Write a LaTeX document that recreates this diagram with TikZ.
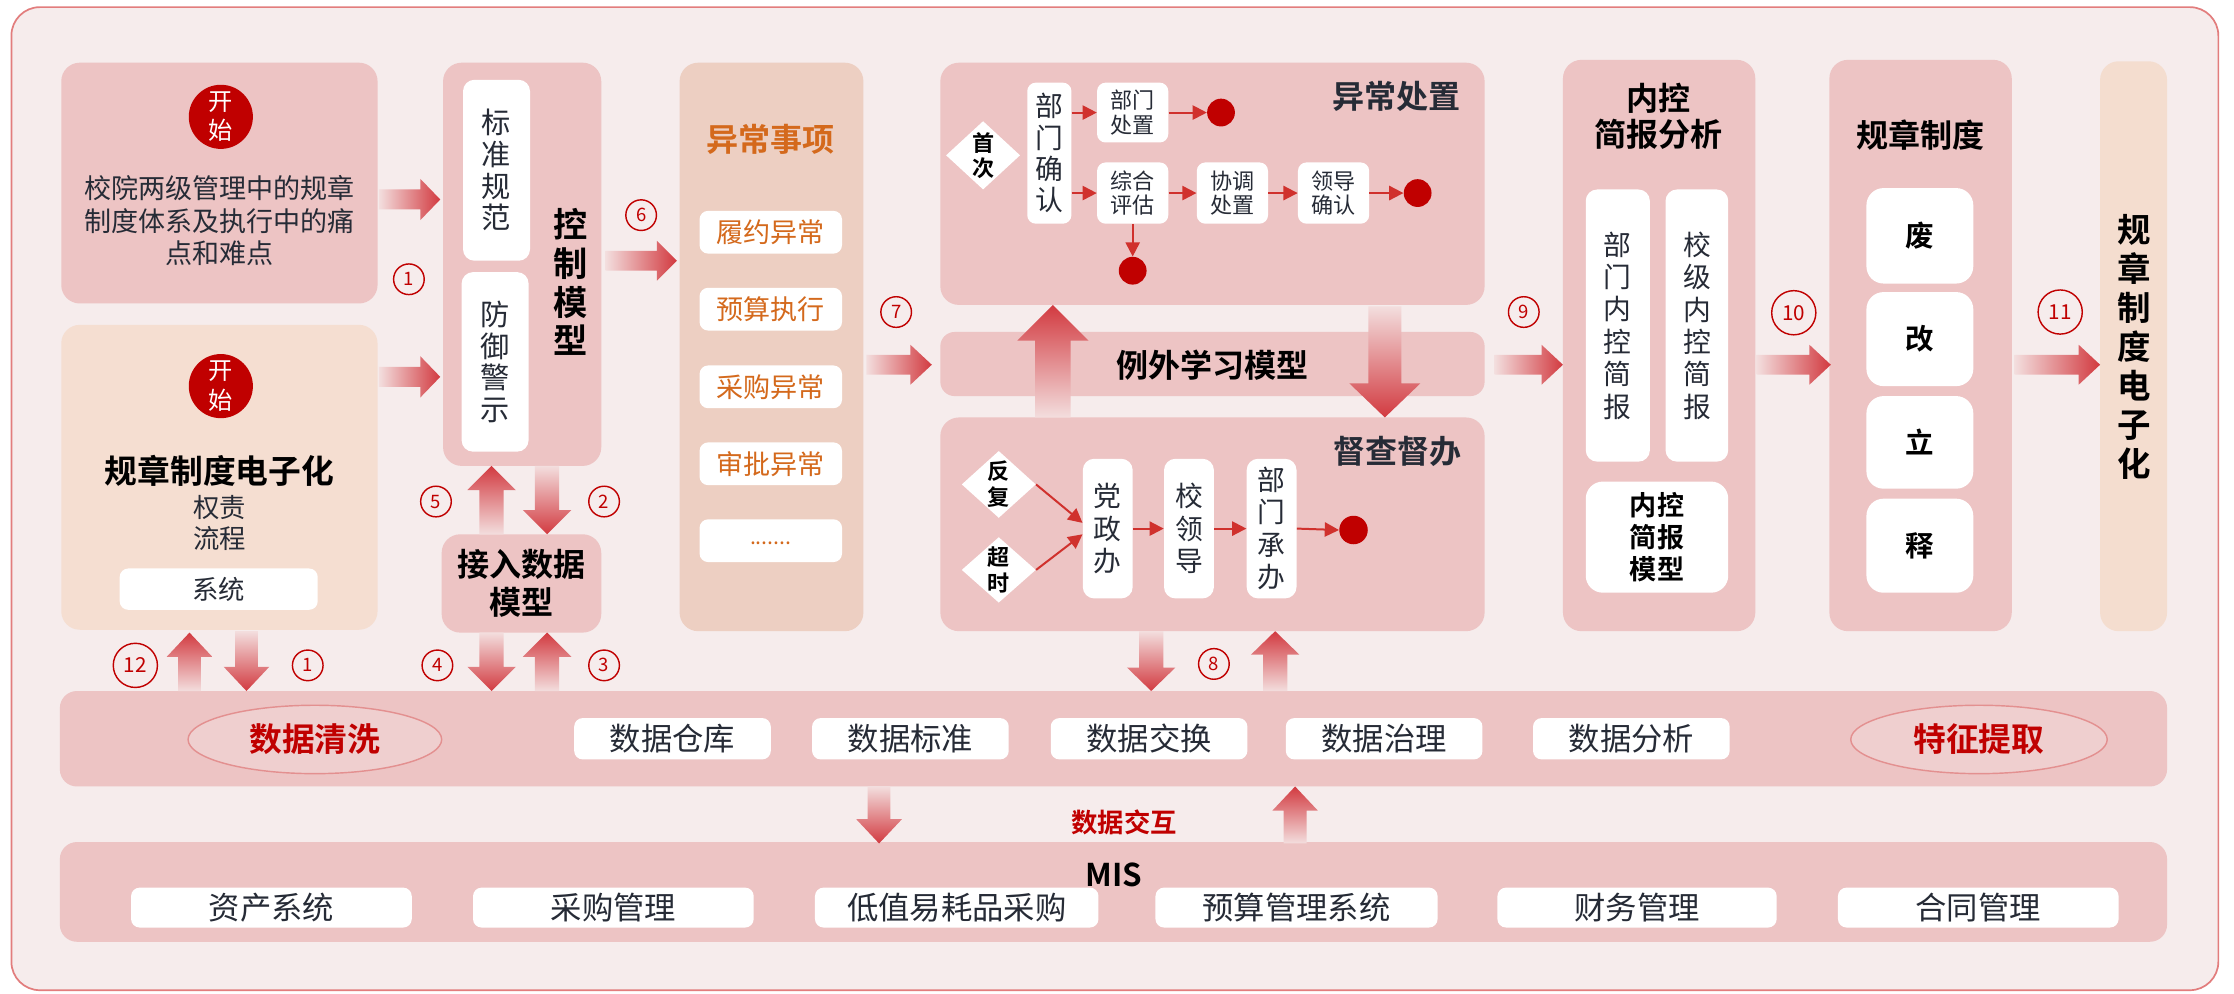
\documentclass[tikz,border=0pt]{standalone}
\usepackage{fontspec}
\setmainfont{Noto Sans CJK SC}[BoldFont={Noto Sans CJK SC Bold}]
\usetikzlibrary{arrows.meta,shapes.geometric}
\definecolor{bgc}{HTML}{F6ECEC}
\definecolor{bordc}{HTML}{E27D7D}
\definecolor{pinkc}{HTML}{EDC4C4}
\definecolor{peacha}{HTML}{F5DED1}
\definecolor{peachb}{HTML}{EDCFC2}
\definecolor{peachc}{HTML}{F4DDCF}
\definecolor{darkred}{HTML}{C00000}
\definecolor{arrred}{HTML}{D23A40}
\definecolor{arrtail}{HTML}{F3DEDE}
\definecolor{flowred}{HTML}{D0312D}
\definecolor{txt}{HTML}{262B36}
\definecolor{orangec}{HTML}{D4691C}
\definecolor{ellc}{HTML}{EFCFCF}
\definecolor{ellb}{HTML}{E39090}
\newcommand\myarrR[6]{% x1 x2 y shafthalf headhalf headlen
  \shade[left color=arrtail, right color=arrred] (#1,#3-#4) -- (#2-#6,#3-#4) -- (#2-#6,#3-#5) -- (#2,#3) -- (#2-#6,#3+#5) -- (#2-#6,#3+#4) -- (#1,#3+#4) -- cycle;}
\newcommand\myarrU[6]{% x ytail ytip shafthalf headhalf headlen
  \shade[top color=arrred, bottom color=arrtail] (#1-#4,#2) -- (#1-#4,#3+#6) -- (#1-#5,#3+#6) -- (#1,#3) -- (#1+#5,#3+#6) -- (#1+#4,#3+#6) -- (#1+#4,#2) -- cycle;}
\newcommand\myarrD[6]{% x ytail ytip shafthalf headhalf headlen
  \shade[top color=arrtail, bottom color=arrred] (#1-#4,#2) -- (#1-#4,#3-#6) -- (#1-#5,#3-#6) -- (#1,#3) -- (#1+#5,#3-#6) -- (#1+#4,#3-#6) -- (#1+#4,#2) -- cycle;}
\begin{document}
\begin{tikzpicture}[x=1pt,y=-1pt,
  pbox/.style={fill=pinkc, rounded corners=13, inner sep=0},
  wbox/.style={fill=white, rounded corners=6, inner sep=0, text=txt, align=center},
  vbox/.style={fill=white, rounded corners=8, inner sep=0, text=txt, align=center},
  tx/.style={text=txt, inner sep=0, align=center},
  startc/.style={circle, fill=darkred, text=white, minimum size=45, inner sep=0, align=center, font=\fontsize{17}{20.5}\selectfont},
  numc/.style={circle, draw=darkred, line width=1, text=darkred, minimum size=21.5, inner sep=0, font=\fontsize{13}{13}\selectfont},
  numb/.style={numc, minimum size=31, font=\fontsize{14.5}{14.5}\selectfont},
  dotc/.style={circle, fill=darkred, minimum size=19.5, inner sep=0},
  dia/.style={diamond, fill=white, minimum width=52, minimum height=48, inner sep=0},
  flow/.style={draw=flowred, line width=1.4, -{Triangle[length=10pt,width=10pt]}},
  ell/.style={ellipse, fill=ellc, draw=ellb, line width=1, minimum width=178, minimum height=48, inner sep=0, text=darkred, font=\fontsize{23}{23}\selectfont\bfseries},
  f19/.style={font=\fontsize{19}{22.8}\selectfont},
  f22/.style={font=\fontsize{22}{22}\selectfont},
  ttl/.style={font=\fontsize{22.5}{25}\selectfont\bfseries}
]
\useasboundingbox (0,0) rectangle (1568,697);
\fill[white] (0,0) rectangle (1568,697);
\draw[fill=bgc, draw=bordc, line width=1.2, rounded corners=20] (8,5) rectangle (1557,695);

% ---------- left column ----------
\node[pbox, minimum width=222, minimum height=169] (tl) at (154,128.5) {};
\node[startc] (s1) at (155,82) {开\\始};
\node[tx, f19] (tlt) at (154,155) {校院两级管理中的规章\\制度体系及执行中的痛\\点和难点};

\node[fill=peacha, rounded corners=13, minimum width=222, minimum height=214, inner sep=0] (bl) at (154,335) {};
\node[startc] (s2) at (155,271) {开\\始};
\node[tx, font=\fontsize{23}{23}\selectfont\bfseries, text=black] (blt) at (154,330.5) {规章制度电子化};
\node[tx, font=\fontsize{18.5}{22}\selectfont] (blq) at (154,367) {权责\\流程};
\node[wbox, minimum width=139, minimum height=29, font=\fontsize{18.5}{18.5}\selectfont] (xt) at (153.5,413.5) {系统};

% ---------- control model ----------
\node[pbox, minimum width=111, minimum height=283] (cm) at (366.5,185.5) {};
\node[vbox, minimum width=47, minimum height=127, font=\fontsize{20.5}{22.2}\selectfont] (bzgf) at (348.5,119.5) {标\\准\\规\\范};
\node[vbox, minimum width=47, minimum height=126, font=\fontsize{20.5}{22.2}\selectfont] (fyjs) at (347.5,254) {防\\御\\警\\示};
\node[tx, font=\fontsize{24}{27.2}\selectfont\bfseries, text=black] (kzmx) at (400.5,198) {控\\制\\模\\型};

\node[pbox, minimum width=112, minimum height=69] (ad) at (366,409.5) {};
\node[tx, font=\fontsize{22.5}{27}\selectfont\bfseries, text=black] (adt) at (366,409.5) {接入数据\\模型};

% ---------- anomalies ----------
\node[fill=peachb, rounded corners=13, minimum width=129, minimum height=399, inner sep=0] (ex) at (541.5,243.5) {};
\node[tx, ttl, text=orangec] (ext) at (541,98) {异常事项};
\node[wbox, minimum width=100, minimum height=30, text=orangec, f19] (e1) at (541,163) {履约异常};
\node[wbox, minimum width=100, minimum height=30, text=orangec, f19] (e2) at (541,217) {预算执行};
\node[wbox, minimum width=100, minimum height=30, text=orangec, f19] (e3) at (541,271.5) {采购异常};
\node[wbox, minimum width=100, minimum height=30, text=orangec, f19] (e4) at (541,325.5) {审批异常};
\node[wbox, minimum width=100, minimum height=30] (e5) at (541,379.5) {};
\node[tx, text=orangec, font=\fontsize{15}{15}\selectfont] (e5t) at (541,381) {.......};

% ---------- 异常处置 ----------
\node[pbox, minimum width=382, minimum height=170] (yc) at (851,129) {};
\node[tx, ttl] (yct) at (980,68) {异常处置};
\node[dia] (sc) at (690,109) {};
\node[tx, font=\fontsize{15.5}{17.5}\selectfont\bfseries, text=black] (sct) at (690,109) {首\\次};
\node[vbox, minimum width=31, minimum height=99, rounded corners=6, font=\fontsize{19.5}{22}\selectfont] (bmqr) at (736.5,107.5) {部\\门\\确\\认};
\node[wbox, minimum width=50, minimum height=42, font=\fontsize{15.5}{17}\selectfont] (bmcz) at (795,79) {部门\\处置};
\node[dotc] (d1) at (857,79) {};
\node[wbox, minimum width=50, minimum height=43, font=\fontsize{15.5}{17}\selectfont] (zhpg) at (795,135.5) {综合\\评估};
\node[wbox, minimum width=50, minimum height=43, font=\fontsize{15.5}{17}\selectfont] (xtcz) at (865,135.5) {协调\\处置};
\node[wbox, minimum width=50, minimum height=43, font=\fontsize{15.5}{17}\selectfont] (ldqr) at (936,135.5) {领导\\确认};
\node[dotc] (d2) at (995,135.5) {};
\node[dotc] (d3) at (795,190) {};
\draw[flow] (bmqr.east |- bmcz.west) -- (bmcz.west);
\draw[flow] (bmcz) -- (d1);
\draw[flow] (bmqr.east |- zhpg.west) -- (zhpg.west);
\draw[flow] (zhpg) -- (xtcz);
\draw[flow] (xtcz) -- (ldqr);
\draw[flow] (ldqr) -- (d2);
\draw[flow] (zhpg) -- (d3);

% ---------- 例外学习模型 ----------
\node[pbox, minimum width=382, minimum height=45, rounded corners=10] (lw) at (851,255.5) {};
\node[tx, ttl, text=black] (lwt) at (851,256) {例外学习模型};

% ---------- 督查督办 ----------
\node[pbox, minimum width=382, minimum height=150] (dc) at (851,368) {};
\node[tx, ttl] (dct) at (981,317) {督查督办};
\node[dia, minimum height=47] (ff) at (701,340) {};
\node[tx, font=\fontsize{15.5}{18}\selectfont\bfseries, text=black] (fft) at (701,340) {反\\复};
\node[dia, minimum height=46] (cs) at (701,400) {};
\node[tx, font=\fontsize{15.5}{18}\selectfont\bfseries, text=black] (cst) at (701,400) {超\\时};
\node[vbox, minimum width=35, minimum height=98, font=\fontsize{19.5}{22.7}\selectfont] (dzb) at (777.5,371) {党\\政\\办};
\node[vbox, minimum width=35, minimum height=98, font=\fontsize{19.5}{22.7}\selectfont] (xld) at (834.5,371) {校\\领\\导};
\node[vbox, minimum width=35, minimum height=98, font=\fontsize{19.5}{22.7}\selectfont] (bmcb) at (892.5,371) {部\\门\\承\\办};
\node[dotc, minimum size=20] (d4) at (950,372) {};
\draw[flow] (ff.east) -- ([yshift=4pt]dzb.west);
\draw[flow] (cs.east) -- ([yshift=-4pt]dzb.west);
\draw[flow] (dzb) -- (xld);
\draw[flow] (xld) -- (bmcb);
\draw[flow] (bmcb.east) -- (d4.west);

% big arrows through the learning model
\myarrU{739}{293}{214}{12.5}{25}{25}
\myarrD{972}{215}{293}{11.5}{25}{24}

% ---------- 内控简报分析 ----------
\node[pbox, minimum width=135, minimum height=401] (nk) at (1164.5,242.5) {};
\node[tx, ttl, text=black] (nkt) at (1164,81.5) {内控\\简报分析};
\node[vbox, minimum width=45, minimum height=191, font=\fontsize{19.5}{22.7}\selectfont] (bmnk) at (1135.5,228.5) {部\\门\\内\\控\\简\\报};
\node[vbox, minimum width=44, minimum height=191, font=\fontsize{19.5}{22.7}\selectfont] (xjnk) at (1191,228.5) {校\\级\\内\\控\\简\\报};
\node[vbox, minimum width=100, minimum height=78, rounded corners=12, font=\fontsize{19}{22.5}\selectfont\bfseries, text=black] (nkmx) at (1163,377) {内控\\简报\\模型};

% ---------- 规章制度 ----------
\node[pbox, minimum width=128, minimum height=401] (gz) at (1348,242.5) {};
\node[tx, ttl, text=black] (gzt) at (1348,95) {规章制度};
\node[vbox, minimum width=75, minimum height=67, rounded corners=12, font=\fontsize{20}{20}\selectfont\bfseries, text=black] (g1) at (1347.5,165.5) {废};
\node[vbox, minimum width=75, minimum height=66, rounded corners=12, font=\fontsize{20}{20}\selectfont\bfseries, text=black] (g2) at (1347.5,238) {改};
\node[vbox, minimum width=75, minimum height=65, rounded corners=12, font=\fontsize{20}{20}\selectfont\bfseries, text=black] (g3) at (1347.5,310.5) {立};
\node[vbox, minimum width=75, minimum height=66, rounded corners=12, font=\fontsize{20}{20}\selectfont\bfseries, text=black] (g4) at (1347.5,383) {释};

% ---------- right box ----------
\node[fill=peachc, rounded corners=13, minimum width=47, minimum height=400, inner sep=0] (rb) at (1497.5,243) {};
\node[tx, font=\fontsize{23.5}{27.3}\selectfont\bfseries, text=black] (rbt) at (1498,243.5) {规\\章\\制\\度\\电\\子\\化};

% ---------- data layer ----------
\node[pbox, minimum width=1479, minimum height=67, rounded corners=12] (db) at (781.5,518.5) {};
\node[ell] (qx) at (221,519) {数据清洗};
\node[ell, minimum width=180] (tz) at (1389,519) {特征提取};
\node[wbox, minimum width=138, minimum height=29, f22] (k1) at (472,518.5) {数据仓库};
\node[wbox, minimum width=138, minimum height=29, f22] (k2) at (639,518.5) {数据标准};
\node[wbox, minimum width=138, minimum height=29, f22] (k3) at (806.5,518.5) {数据交换};
\node[wbox, minimum width=138, minimum height=29, f22] (k4) at (971.5,518.5) {数据治理};
\node[wbox, minimum width=138, minimum height=29, f22] (k5) at (1145,518.5) {数据分析};

% ---------- MIS ----------
\node[pbox, minimum width=1479, minimum height=70, rounded corners=12] (mis) at (781.5,626) {};
\node[tx, font=\fontsize{22}{22}\selectfont\bfseries, text=black] (mist) at (782,614) {MIS};
\node[wbox, minimum width=197, minimum height=28, f22] (m1) at (190.5,637) {资产系统};
\node[wbox, minimum width=197, minimum height=28, f22] (m2) at (430.5,637) {采购管理};
\node[wbox, minimum width=199, minimum height=28, f22] (m3) at (671.5,637) {低值易耗品采购};
\node[wbox, minimum width=198, minimum height=28, f22] (m4) at (910,637) {预算管理系统};
\node[wbox, minimum width=196, minimum height=28, f22] (m5) at (1149,637) {财务管理};
\node[wbox, minimum width=197, minimum height=28, f22] (m6) at (1388.5,637) {合同管理};
\node[tx, text=darkred, font=\fontsize{18.5}{18.5}\selectfont\bfseries] (sjjh) at (789,577) {数据交互};

% ---------- block arrows ----------
\myarrR{266}{309}{140}{7}{14.5}{14}
\myarrR{266}{309}{264.5}{7}{14.5}{14}
\myarrR{425}{475}{183}{7}{14}{14}
\myarrR{608}{654}{256}{7}{14}{15}
\myarrR{1049}{1097}{256}{7}{14}{15}
\myarrR{1233}{1285}{256}{7}{14}{15}
\myarrR{1414}{1474}{256}{7}{14}{15}
\myarrU{133}{485}{444}{8}{16}{17}
\myarrD{173}{443}{485}{8}{16}{17}
\myarrU{345}{375}{327}{8.5}{17}{17}
\myarrD{384}{327}{375}{8.5}{17}{17}
\myarrD{345}{444}{485}{8.5}{17}{17}
\myarrU{384}{485}{444}{8.5}{17}{17}
\myarrD{808}{443}{485}{8.5}{17}{16.5}
\myarrU{895}{485}{443}{8.5}{17}{16.5}
\myarrD{617}{552}{592}{8}{16}{17}
\myarrU{909}{592}{552}{8}{16}{17}

% ---------- step numbers ----------
\node[numc] (n1a) at (287,196) {1};
\node[numc] (n6) at (450,151) {6};
\node[numc] (n7) at (629,219) {7};
\node[numc] (n9) at (1069.5,219) {9};
\node[numb] (n10) at (1259,219.5) {10};
\node[numb] (n11) at (1446,219) {11};
\node[numc] (n5) at (306,352) {5};
\node[numc] (n2) at (424,352) {2};
\node[numb] (n12) at (95,467) {12};
\node[numc] (n1b) at (216,467) {1};
\node[numc] (n4) at (307,467) {4};
\node[numc] (n3) at (424,467) {3};
\node[numc] (n8) at (852,466) {8};
\end{tikzpicture}
\end{document}
